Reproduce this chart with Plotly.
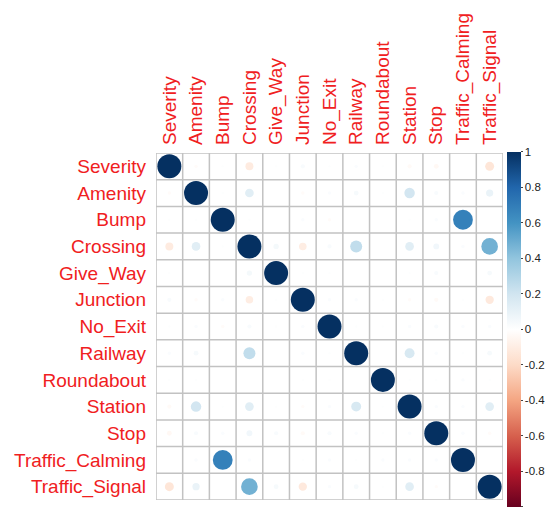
import plotly.graph_objects as go

# Correlation matrix of accident severity and road features
variables = ["Severity", "Amenity", "Bump", "Crossing", "Give_Way", "Junction",
             "No_Exit", "Railway", "Roundabout", "Station", "Stop",
             "Traffic_Calming", "Traffic_Signal"]

corr = [
    [1.00, -0.02, 0.01, -0.11, 0.01, 0.03, 0.01, 0.02, 0.01, -0.03, -0.04, 0.00, -0.14],
    [-0.02, 1.00, 0.01, 0.13, 0.00, -0.02, 0.02, 0.04, 0.01, 0.19, 0.03, 0.02, 0.09],
    [0.01, 0.01, 1.00, 0.01, 0.00, 0.02, -0.02, 0.00, 0.00, 0.01, 0.02, 0.68, 0.00],
    [-0.11, 0.13, 0.01, 1.00, 0.05, -0.10, 0.03, 0.25, 0.00, 0.13, 0.06, 0.02, 0.48],
    [0.01, 0.00, 0.00, 0.05, 1.00, 0.01, 0.01, 0.00, 0.00, 0.01, 0.03, 0.00, 0.04],
    [0.03, -0.02, 0.02, -0.10, 0.01, 1.00, 0.02, 0.02, 0.01, -0.02, -0.03, 0.01, -0.12],
    [0.01, 0.02, -0.02, 0.03, 0.01, 0.02, 1.00, 0.01, 0.01, 0.02, 0.03, 0.02, 0.02],
    [0.02, 0.04, 0.00, 0.25, 0.00, 0.02, 0.01, 1.00, 0.00, 0.17, 0.02, 0.01, 0.04],
    [0.01, 0.01, 0.00, 0.00, 0.00, 0.01, 0.01, 0.00, 1.00, 0.01, 0.01, 0.02, 0.01],
    [-0.03, 0.19, 0.01, 0.13, 0.01, -0.02, 0.02, 0.17, 0.01, 1.00, 0.02, 0.02, 0.13],
    [-0.04, 0.03, 0.02, 0.06, 0.03, -0.03, 0.03, 0.02, 0.01, 0.02, 1.00, 0.02, -0.02],
    [0.00, 0.02, 0.68, 0.02, 0.00, 0.01, 0.02, 0.01, 0.02, 0.02, 0.02, 1.00, 0.00],
    [-0.14, 0.09, 0.00, 0.48, 0.04, -0.12, 0.02, 0.04, 0.01, 0.13, -0.02, 0.00, 1.00],
]

colorbar_ticks = [-1, -0.8, -0.6, -0.4, -0.2, 0, 0.2, 0.4, 0.6, 0.8, 1]
colorbar_labels = ["-1", "-0.8", "-0.6", "-0.4", "-0.2", "0", "0.2", "0.4", "0.6", "0.8", "1"]

rdbu = ["#67001F", "#B2182B", "#D6604D", "#F4A582", "#FDDBC7", "#FFFFFF",
        "#D1E5F0", "#92C5DE", "#4393C3", "#2166AC", "#053061"]
colorscale = [[i / 10, c] for i, c in enumerate(rdbu)]

n = len(variables)
full_diameter = 24  # circle diameter in px for |r| = 1

xs, ys, vals, sizes = [], [], [], []
for i in range(n):
    for j in range(n):
        r = corr[i][j]
        xs.append(j)
        ys.append(i)
        vals.append(r)
        sizes.append(full_diameter * abs(r) ** 0.5)

fig = go.Figure()
fig.add_trace(go.Scatter(
    x=xs, y=ys, mode="markers",
    marker=dict(
        size=sizes, sizemode="diameter", color=vals, opacity=1,
        colorscale=colorscale, cmin=-1, cmax=1,
        line=dict(width=0),
        showscale=True,
        colorbar=dict(
            x=1.012, xanchor="left", thickness=14,
            y=-0.02, yanchor="bottom", len=1.023, lenmode="fraction",
            tickvals=colorbar_ticks, ticktext=colorbar_labels,
            ticks="outside", ticklen=2, tickcolor="#444",
            tickfont=dict(family="Liberation Sans, Arial", size=11.5, color="#222"),
            outlinewidth=0, xpad=0, ypad=0,
        ),
    ),
    hovertemplate="%{marker.color:.2f}<extra></extra>",
    showlegend=False,
))

# cell grid
grid_color = "#c2c2c2"
for k in range(n + 1):
    p = k - 0.5
    fig.add_shape(type="line", x0=p, x1=p, y0=-0.5, y1=n - 0.5,
                  xref="x", yref="y", line=dict(color=grid_color, width=1.5),
                  layer="below")
    fig.add_shape(type="line", x0=-0.5, x1=n - 0.5, y0=p, y1=p,
                  xref="x", yref="y", line=dict(color=grid_color, width=1.5),
                  layer="below")

label_font = dict(family="Liberation Sans, Arial", size=19, color="#F0201E")

fig.update_xaxes(
    range=[-0.5, n - 0.5], side="top", tickmode="array",
    tickvals=list(range(n)), ticktext=variables, tickangle=-90,
    tickfont=label_font, showgrid=False, zeroline=False, showline=False,
    ticks="", ticklabelstandoff=7,
)
fig.update_yaxes(
    range=[n - 0.5, -0.5], tickmode="array",
    tickvals=list(range(n)), ticktext=variables,
    tickfont=label_font, showgrid=False, zeroline=False, showline=False,
    ticks="", ticklabelstandoff=9,
)

fig.update_layout(
    width=546, height=510,
    margin=dict(l=156, r=43, t=153, b=10, autoexpand=False),
    paper_bgcolor="white", plot_bgcolor="white",
)

fig.write_html("out.html")
